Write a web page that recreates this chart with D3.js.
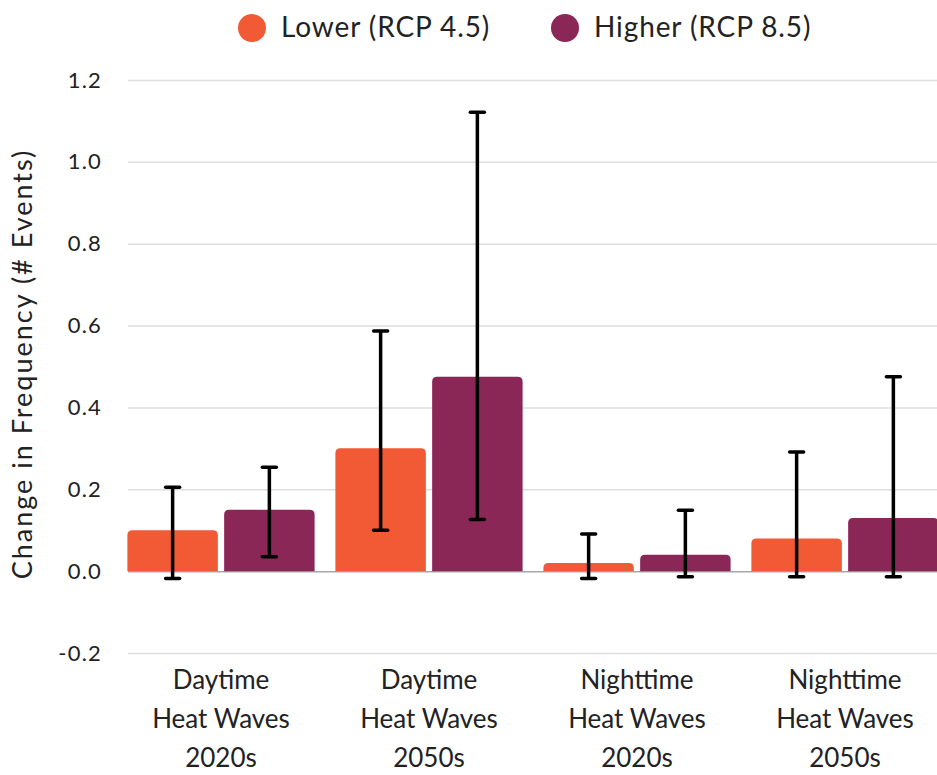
<!DOCTYPE html>
<html><head><meta charset="utf-8">
<script src="https://cdn.jsdelivr.net/npm/d3@7"></script>
<style>
html,body{margin:0;padding:0;background:#fff;}
svg{display:block;font-family:Lato,"Open Sans",sans-serif;}
</style></head>
<body>
<svg id="chart" width="937" height="775"></svg>
<script>
const categories = [["Daytime","Heat Waves","2020s"],["Daytime","Heat Waves","2050s"],["Nighttime","Heat Waves","2020s"],["Nighttime","Heat Waves","2050s"]];
const seriesNames = ["Lower (RCP 4.5)","Higher (RCP 8.5)"];
const lowerValues = [0.10, 0.30, 0.02, 0.08];
const higherValues = [0.15, 0.475, 0.04, 0.13];
const lowerErrLow = [-0.018, 0.10, -0.018, -0.014];
const lowerErrHigh = [0.205, 0.587, 0.091, 0.291];
const higherErrLow = [0.035, 0.126, -0.014, -0.014];
const higherErrHigh = [0.254, 1.121, 0.149, 0.475];
const yTicks = [-0.2, 0, 0.2, 0.4, 0.6, 0.8, 1.0, 1.2];
const colors = ["#F15A35", "#8B2756"];

const svg = d3.select("#chart");
const catKeys = categories.map((c,i)=>"c"+i);
const x0 = d3.scaleBand().domain(catKeys).range([117, 949]).paddingInner(0.1).paddingOuter(0.05);
const x1 = d3.scaleBand().domain([0,1]).range([0, x0.bandwidth()]).paddingInner(0.065).paddingOuter(0);
const y = d3.scaleLinear().domain([-0.2, 1.2]).range([653, 80]);

// gridlines
const grid = svg.append("g").attr("transform","translate(128,0)")
  .call(d3.axisLeft(y).tickValues(yTicks).tickSize(-830).tickFormat(""));
grid.select(".domain").remove();
grid.selectAll(".tick line").attr("stroke", d => d===0 ? "#a8a8a8" : "#dedede").attr("stroke-width",1.5);

// y tick labels
const fmt = d3.format(".1f");
const yax = svg.append("g").attr("transform","translate(102,0)")
  .call(d3.axisLeft(y).tickValues(yTicks).tickSize(0).tickFormat(d => fmt(d).replace("\u2212","-")));
yax.select(".domain").remove();
yax.selectAll("text").attr("font-family","Lato, sans-serif").attr("font-size",22).attr("letter-spacing",1.2).attr("fill","#222").attr("x",0);

// y title
svg.append("text").attr("transform","translate(32,364) rotate(-90)").attr("text-anchor","middle")
  .attr("font-size",27).attr("letter-spacing",2).attr("fill","#222").text("Change in Frequency (# Events)");

// data rows
const rows = [];
categories.forEach((c,i)=>{
  rows.push({cat:catKeys[i], s:0, v:lowerValues[i], lo:lowerErrLow[i], hi:lowerErrHigh[i]});
  rows.push({cat:catKeys[i], s:1, v:higherValues[i], lo:higherErrLow[i], hi:higherErrHigh[i]});
});

function topRounded(x, yTop, w, h, r){
  r = Math.min(r, h, w/2);
  return `M${x},${yTop+h}V${yTop+r}Q${x},${yTop} ${x+r},${yTop}H${x+w-r}Q${x+w},${yTop} ${x+w},${yTop+r}V${yTop+h}Z`;
}

svg.append("g").selectAll("path").data(rows).join("path")
  .attr("d", d => {
    const bx = x0(d.cat)+x1(d.s);
    return topRounded(bx, y(d.v), x1.bandwidth(), y(0)-y(d.v), 5);
  })
  .attr("fill", d => colors[d.s]);

// error bars
const eb = svg.append("g").attr("stroke","#000").attr("stroke-width",3.5);
rows.forEach(d=>{
  const cx = x0(d.cat)+x1(d.s)+x1.bandwidth()/2;
  eb.append("line").attr("x1",cx).attr("x2",cx).attr("y1",y(d.lo)).attr("y2",y(d.hi));
  eb.append("line").attr("x1",cx-7).attr("x2",cx+7).attr("y1",y(d.lo)).attr("y2",y(d.lo)).attr("stroke-linecap","round");
  eb.append("line").attr("x1",cx-7).attr("x2",cx+7).attr("y1",y(d.hi)).attr("y2",y(d.hi)).attr("stroke-linecap","round");
});

// x labels
const xl = svg.append("g");
categories.forEach((c,i)=>{
  const cx = x0(catKeys[i]) + x0.bandwidth()/2;
  const t = xl.append("text").attr("text-anchor","middle").attr("font-size",26).attr("fill","#222");
  c.forEach((line,j)=>{
    t.append("tspan").attr("x",cx).attr("y",689 + j*39).text(line);
  });
});

// legend
const legX = [252, 565];
seriesNames.forEach((n,i)=>{
  svg.append("circle").attr("cx",legX[i]).attr("cy",28).attr("r",14).attr("fill",colors[i]);
  svg.append("text").attr("x",legX[i]+29).attr("y",37).attr("font-size",28).attr("letter-spacing",0.9).attr("fill","#222").text(n);
});
</script>
</body></html>
